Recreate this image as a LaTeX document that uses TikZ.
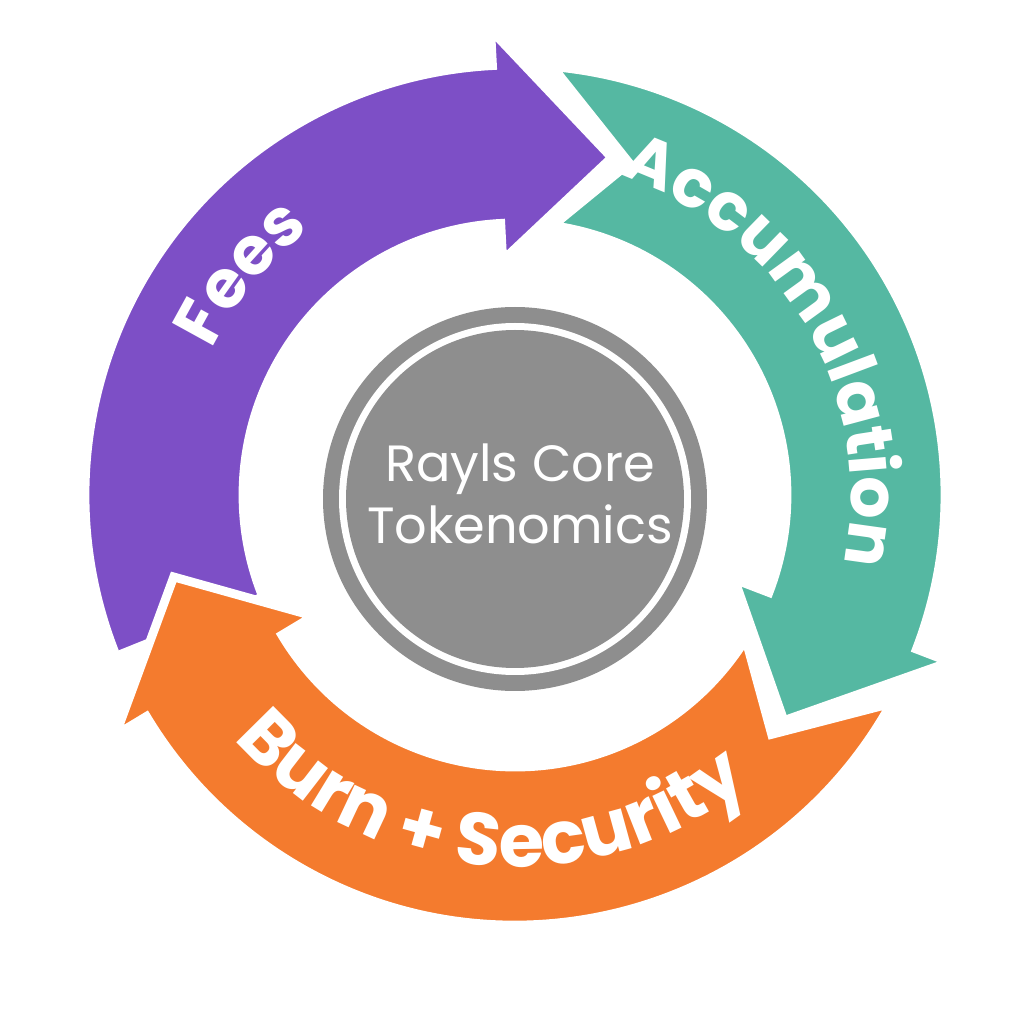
\documentclass[tikz,border=0pt]{standalone}
\usepackage{fontspec}
\setmainfont{Poppins}
\usetikzlibrary{decorations.text}
\definecolor{purp}{HTML}{7D4FC6}
\definecolor{teal2}{HTML}{55B8A2}
\definecolor{oran}{HTML}{F47B2E}
\definecolor{core}{HTML}{8E8E8E}
\def\rin{2.72}\def\rout{4.3}\def\rmid{3.51}\def\wi{2.35}\def\wo{4.66}
\newcommand{\arrowseg}[6]{%
  \fill[#1,draw=white,line width=2.5pt,line join=miter]
   (#2:\rout) arc[start angle=#2,end angle=#5,radius=\rout]
   -- (#5:\wo) -- (#6:\rmid) -- (#5:\wi) -- (#5:\rin)
   arc[start angle=#5,end angle=#4,radius=\rin] -- (#3:\rmid) -- cycle;}
\begin{document}
\begin{tikzpicture}
\fill[white] (0,0) rectangle (10.24,10.24);
\useasboundingbox (0,0) rectangle (10.24,10.24);
\begin{scope}[shift={(5.15,5.29)}]
\arrowseg{purp}{202}{202}{202}{93}{74}
\arrowseg{teal2}{85}{71}{82}{-21}{-40}
\arrowseg{oran}{-29}{-43}{-32}{-149}{-166.5}
\path[decorate,decoration={text along path,text align=center,
  text={|\fontsize{19}{24}\bfseries\color{white}|Fees}}]
  (165:3.36) arc[start angle=165,end angle=117,radius=3.36];
\path[decorate,decoration={text along path,text align=center,
  text={|\fontsize{19}{24}\bfseries\color{white}|Accumulation}}]
  (80:3.36) arc[start angle=80,end angle=-20,radius=3.36];
\path[decorate,decoration={text along path,text align=center,
  text={|\fontsize{21}{26}\bfseries\color{white}|Burn + Security}}]
  (205:3.72) arc[start angle=205,end angle=325,radius=3.72];
\end{scope}
\node[circle,fill=core,minimum size=3.84cm,inner sep=0] (outerc) at (5.15,5.25) {};
\node[circle,fill=white,minimum size=3.52cm,inner sep=0] (gap) at (outerc) {};
\node[circle,fill=core,minimum size=3.38cm,inner sep=0] (core) at (outerc) {};
\node[text=white,align=center,font=\fontsize{14.5}{17.5}\selectfont] (lbl) at (5.2,5.3) {Rayls Core\\Tokenomics};
\end{tikzpicture}
\end{document}
